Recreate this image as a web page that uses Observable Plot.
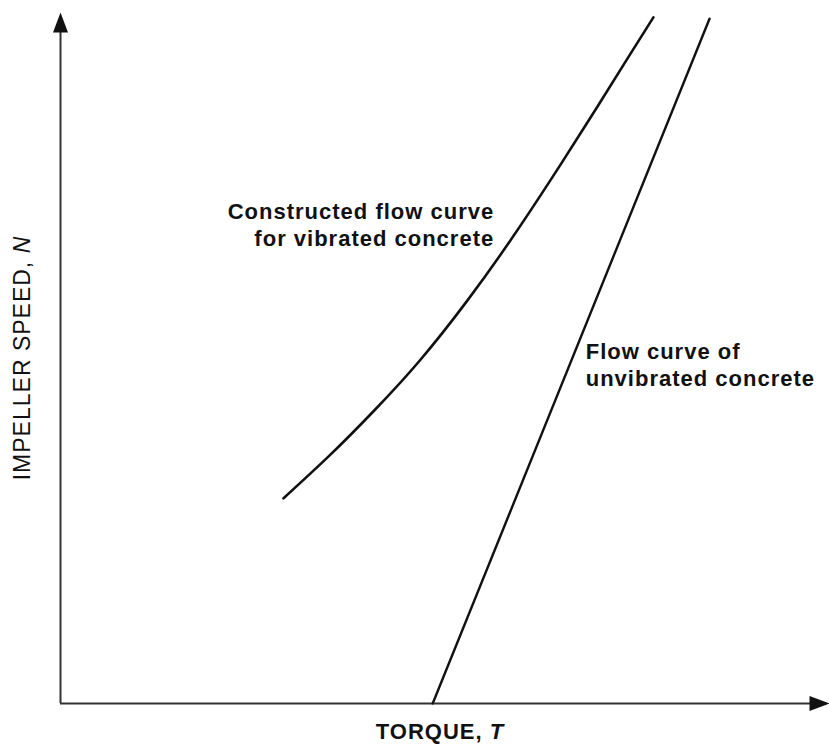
<!DOCTYPE html>
<html>
<head>
<meta charset="utf-8">
<script src="https://cdn.jsdelivr.net/npm/d3@7"></script>
<script src="https://cdn.jsdelivr.net/npm/@observablehq/plot@0.6"></script>
<style>
  html, body { margin: 0; padding: 0; background: #fff; }
  #chart svg { display: block; }
</style>
</head>
<body>
<div id="chart"></div>
<script>
// Constructed flow curve for vibrated concrete (torque, speed), arbitrary units 0-100
const vibratedTorque = [29.0, 35.0, 40.8, 46.7, 52.9, 58.5, 63.7, 68.7, 73.6, 77.1];
const vibratedSpeed  = [29.7, 35.9, 42.4, 49.6, 58.3, 67.0, 75.7, 84.4, 93.1, 99.3];
// Flow curve of unvibrated concrete (straight line)
const unvibratedTorque = [48.4, 84.4];
const unvibratedSpeed  = [0, 99.1];
// Annotation text
const annotationLines = ["Constructed flow curve", "for vibrated concrete", "Flow curve of", "unvibrated concrete"];
const annotationX = [56.4, 56.4, 68.3, 68.3];
const annotationY = [71.2, 67.3, 50.9, 47.0];
const annotationAnchor = ["end", "end", "start", "start"];
const xTitle = "TORQUE, T";
const yTitle = "IMPELLER SPEED, N";

const vibrated = vibratedTorque.map((t, i) => ({torque: t, speed: vibratedSpeed[i]}));
const unvibrated = unvibratedTorque.map((t, i) => ({torque: t, speed: unvibratedSpeed[i]}));
const annotations = annotationLines.map((s, i) => ({text: s, x: annotationX[i], y: annotationY[i], anchor: annotationAnchor[i]}));

const arrowUp = {draw(ctx) { ctx.moveTo(0, 0); ctx.lineTo(7.5, 20); ctx.lineTo(-7.5, 20); ctx.closePath(); }};
const arrowRight = {draw(ctx) { ctx.moveTo(0, 0); ctx.lineTo(-20, 7.5); ctx.lineTo(-20, -7.5); ctx.closePath(); }};

const font = "'Liberation Sans', Arial, Helvetica, sans-serif";

const chart = Plot.plot({
  width: 829,
  height: 749,
  marginLeft: 60,
  marginRight: 0,
  marginTop: 12,
  marginBottom: 46,
  style: {fontFamily: font, background: "#fff", color: "#111"},
  x: {domain: [0, 100], axis: null},
  y: {domain: [0, 100], axis: null},
  marks: [
    // axes
    Plot.ruleY([0], {x1: 0, x2: 98, stroke: "#333", strokeWidth: 2}),
    Plot.ruleX([0], {y1: 0, y2: 98, stroke: "#333", strokeWidth: 2}),
    Plot.dot([{x: 0, y: 100}], {x: "x", y: "y", symbol: arrowUp, r: 8, fill: "#111", stroke: "none"}),
    Plot.dot([{x: 100, y: 0}], {x: "x", y: "y", symbol: arrowRight, r: 8, fill: "#111", stroke: "none"}),
    // curves
    Plot.line(vibrated, {x: "torque", y: "speed", curve: "natural", stroke: "#111", strokeWidth: 2.6}),
    Plot.line(unvibrated, {x: "torque", y: "speed", stroke: "#111", strokeWidth: 2.4}),
    // annotations
    Plot.text(annotations.filter(d => d.anchor === "end"), {x: "x", y: "y", text: "text", textAnchor: "end", fontSize: 22, fontWeight: "bold", fill: "#111", className: "spaced"}),
    Plot.text(annotations.filter(d => d.anchor === "start"), {x: "x", y: "y", text: "text", textAnchor: "start", fontSize: 22, fontWeight: "bold", fill: "#111", className: "spaced"}),
    // axis titles
    Plot.text([xTitle], {frameAnchor: "bottom", textAnchor: "middle", dx: -5, dy: 35, fontSize: 22, fontWeight: "bold", fill: "#111", className: "spaced"}),
    Plot.text([yTitle], {frameAnchor: "left", textAnchor: "middle", dx: -38, dy: 0, rotate: -90, fontSize: 23, fill: "#111", className: "spaced"})
  ]
});

// typographic tweaks: letter spacing, italic variable symbols
for (const g of chart.querySelectorAll("g.spaced")) g.setAttribute("letter-spacing", "1");
for (const t of chart.querySelectorAll("text")) {
  const s = t.textContent;
  if (s === xTitle || s === yTitle) {
    const head = s.slice(0, -1), last = s.slice(-1);
    t.textContent = "";
    const a = document.createElementNS("http://www.w3.org/2000/svg", "tspan");
    a.textContent = head;
    const b = document.createElementNS("http://www.w3.org/2000/svg", "tspan");
    b.textContent = last;
    b.setAttribute("font-style", "italic");
    t.appendChild(a); t.appendChild(b);
  }
}
document.getElementById("chart").appendChild(chart);
</script>
</body>
</html>
